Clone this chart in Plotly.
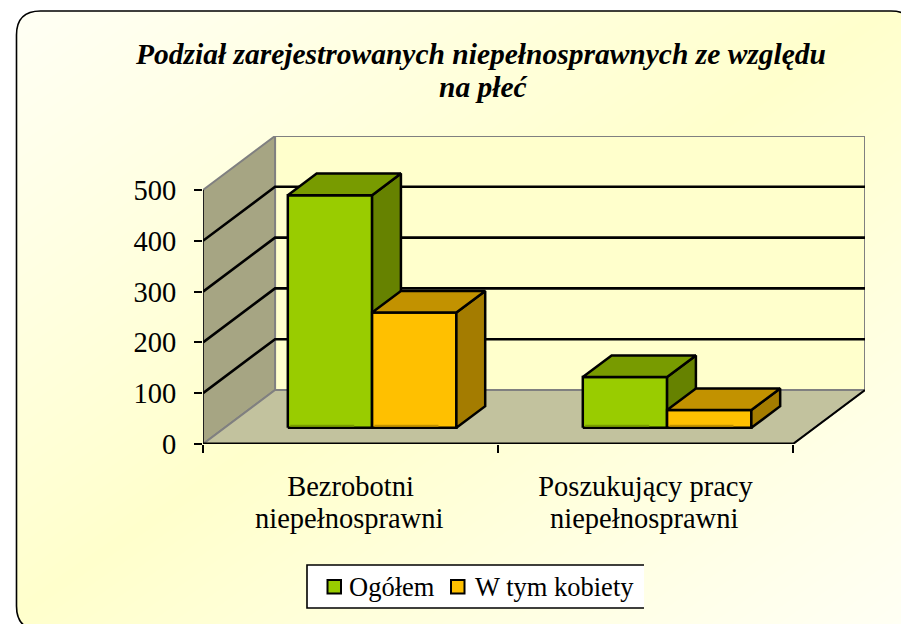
import plotly.graph_objects as go

W, H = 901, 624
FONT = "Liberation Serif"

title_lines = ["Podział zarejestrowanych niepełnosprawnych ze względu", "na płeć"]
categories = ["Bezrobotni<br>niepełnosprawni", "Poszukujący pracy<br>niepełnosprawni"]
series_names = ["Ogółem", "W tym kobiety"]
ogolem = [458, 100]
kobiety = [227, 35]
y_ticks = [0, 100, 200, 300, 400, 500]

FRONT = ["#99CC00", "#FFC000"]
TOP = ["#789B00", "#C29200"]
SIDE = ["#668200", "#A47C00"]

# oblique projection, in axis units
DX = 72 / 294.75
DY = 500 * 54 / 254
BAR_W = 1 / 3.5
D0, D1 = 0.3, 0.7


def pr(cat, val, depth):
    return cat + DX * depth, val + DY * depth


fig = go.Figure()


def poly(points, fill=None, line="black", width=2.5):
    xs = [p[0] for p in points]
    ys = [p[1] for p in points]
    fig.add_trace(go.Scatter(
        x=xs, y=ys, xaxis="x2", yaxis="y2", mode="lines" if width else "none",
        line=dict(color=line, width=width) if width else None,
        fill="toself" if fill else "none", fillcolor=fill,
        showlegend=False, hoverinfo="skip", cliponaxis=False))


# gradient background
gx = [-0.5, 0, 0.5, 1, 1.5]
gy = [-0.5, 0, 0.5, 1, 1.5]
gz = [[x + (1 - y) for x in gx] for y in gy]
fig.add_trace(go.Heatmap(x=gx, y=gy, z=gz, zsmooth="best", zmin=-1, zmax=3, showscale=False, hoverinfo="skip",
                         colorscale=[[0, "#FFFFF0"], [0.25, "#FFFFF6"], [0.5, "#FFFFCC"], [0.75, "#FFFFF4"], [1, "#FFFFF0"]]))

# walls and floor
top = y_ticks[-1]
poly([pr(0, 0, 1), pr(2, 0, 1), pr(2, top, 1), pr(0, top, 1), pr(0, 0, 1)], "#FFFFCC", "#808080", 2)
poly([pr(0, 0, 0), pr(0, top, 0), pr(0, top, 1), pr(0, 0, 1), pr(0, 0, 0)], "#A6A583", "#808080", 2)
poly([pr(0, 0, 0), pr(2, 0, 0), pr(2, 0, 1), pr(0, 0, 1), pr(0, 0, 0)], "#C2C29E", "#808080", 2)
for v in y_ticks[1:-1]:
    poly([pr(0, v, 0), pr(0, v, 1), pr(2, v, 1)], None, "black", 2.6)
poly([pr(2, 0, 0), pr(2, 0, 1)], None, "black", 2)
poly([pr(0, 0, 0), pr(2, 0, 0)], None, "black", 3)
poly([pr(0, 0, 0), pr(0, top, 0)], None, "black", 1.5)

# bars
for c, vals in enumerate(zip(ogolem, kobiety)):
    left0 = c + 0.5 - BAR_W
    for s, v in enumerate(vals):
        a = left0 + s * BAR_W
        b = a + BAR_W
        poly([pr(a, 0, D0), pr(b, 0, D0), pr(b, v, D0), pr(a, v, D0), pr(a, 0, D0)], FRONT[s])
        poly([pr(a + 0.008, 2, D0), pr(a + 0.225, 2, D0), pr(a + 0.225, 6, D0), pr(a + 0.008, 6, D0)], TOP[s], width=0)
        poly([pr(b, 0, D0), pr(b, 0, D1), pr(b, v, D1), pr(b, v, D0), pr(b, 0, D0)], SIDE[s])
        poly([pr(a, v, D0), pr(b, v, D0), pr(b, v, D1), pr(a, v, D1), pr(a, v, D0)], TOP[s])


def fx(x):
    return x / W


def fy(y):
    return 1 - y / H


def path(cmds):
    out = []
    for c in cmds:
        if len(c) == 1:
            out.append(c[0])
        else:
            nums = []
            for i in range(1, len(c), 2):
                nums += [f"{fx(c[i]):.5f}", f"{fy(c[i + 1]):.5f}"]
            out.append(c[0] + " " + " ".join(nums))
    return " ".join(out)


L, T, R, B, r = 16.5, 11, 915, 630, 24
rounded = [("M", L + r, T), ("Q", L, T, L, T + r), ("L", L, B - r), ("Q", L, B, L + r, B),
           ("L", R - r, B), ("Q", R, B, R, B - r), ("L", R, T + r), ("Q", R, T, R - r, T), ("Z",)]
outer = [("M", -5, -5), ("L", W + 20, -5), ("L", W + 20, H + 20), ("L", -5, H + 20), ("Z",)]
shapes = [
    dict(type="path", xref="paper", yref="paper", path=path(outer + rounded), fillcolor="white", line_width=0, layer="above"),
    dict(type="path", xref="paper", yref="paper", path=path(rounded), line=dict(color="black", width=1.6), layer="above"),
    dict(type="rect", xref="paper", yref="paper", x0=fx(307), x1=fx(644), y0=fy(608), y1=fy(565), fillcolor="white", line_width=0, layer="above"),
    dict(type="path", xref="paper", yref="paper", path=path([("M", 644, 565), ("L", 307, 565), ("L", 307, 608), ("L", 644, 608)]),
         line=dict(color="black", width=1.6), layer="above"),
    dict(type="rect", xref="paper", yref="paper", x0=fx(327.5), x1=fx(341), y0=fy(593.5), y1=fy(580), fillcolor=FRONT[0], line=dict(color="black", width=2), layer="above"),
    dict(type="rect", xref="paper", yref="paper", x0=fx(451), x1=fx(464.5), y0=fy(593.5), y1=fy(580), fillcolor=FRONT[1], line=dict(color="black", width=2), layer="above"),
]


def note(text, x, y, size, anchor="center", **font):
    return dict(text=text, x=fx(x), y=fy(y), xref="paper", yref="paper", xanchor=anchor, yanchor="middle",
                showarrow=False, font=dict(family=FONT, size=size, color="black", **font))


first_lines = [c.split("<br>")[0] for c in categories]
second_lines = [c.split("<br>")[1] for c in categories]

annotations = [
    note(title_lines[0], 480.5, 54, 29.5, weight="bold", style="italic"),
    note(title_lines[1], 483, 87, 29.5, weight="bold", style="italic"),
    note(series_names[0], 347, 587, 26.5, "left"),
    note(series_names[1], 473, 587, 26.5, "left"),
    note(second_lines[0], 349, 518, 28.5),
    note(second_lines[1], 644, 518, 28.5),
]

fig.update_layout(
    template="none",
    width=W, height=H, margin=dict(l=0, r=0, t=0, b=0, pad=0), autosize=False,
    paper_bgcolor="white", plot_bgcolor="rgba(0,0,0,0)", showlegend=False,
    shapes=shapes, annotations=annotations,
    xaxis=dict(domain=[0, 1], range=[0, 1], visible=False, fixedrange=True, automargin=False),
    yaxis=dict(domain=[0, 1], range=[0, 1], visible=False, fixedrange=True, automargin=False),
    xaxis2=dict(domain=[fx(203), fx(865)], range=[0, 2 + DX], anchor="y2", showgrid=False, zeroline=False, automargin=False,
                showline=False, tickmode="array", tickvals=[0.5, 1.5], ticktext=first_lines, ticks="",
                ticklabelstandoff=22, tickfont=dict(family=FONT, size=28.5, color="black"),
                minor=dict(tickmode="array", tickvals=[0, 1, 2], ticks="outside", ticklen=8, tickwidth=1.5, tickcolor="black", showgrid=False)),
    yaxis2=dict(domain=[fy(444), fy(136)], range=[0, top + DY], anchor="x2", showgrid=False, zeroline=False, automargin=False,
                showline=False, tickmode="array", tickvals=y_ticks, ticks="outside", ticklen=8, tickwidth=2,
                tickcolor="black", ticklabelstandoff=12, tickfont=dict(family=FONT, size=28.5, color="black")),
)

fig.write_html("out.html", config={"displayModeBar": False, "responsive": False},
               default_width="901px", default_height="624px",
               post_script="document.body.style.margin='0';document.documentElement.style.overflow='hidden';")
